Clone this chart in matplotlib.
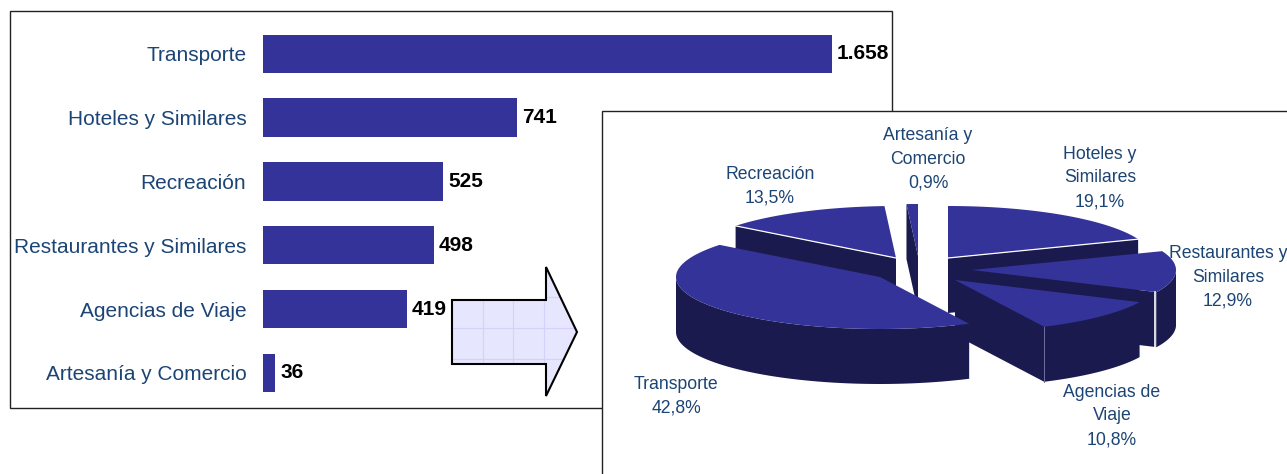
#!/usr/bin/env python3
# -*- coding: utf-8 -*-

import numpy as np
import matplotlib
matplotlib.use('Agg')
import matplotlib.pyplot as plt
from matplotlib.patches import Polygon, Rectangle

plt.rcParams['font.family'] = ['Liberation Sans', 'DejaVu Sans']

# bar chart data
bar_categories = ['Transporte', 'Hoteles y Similares', 'Recreación',
                  'Restaurantes y Similares', 'Agencias de Viaje', 'Artesanía y Comercio']
bar_values = [1658, 741, 525, 498, 419, 36]
bar_labels = ['1.658', '741', '525', '498', '419', '36']

# pie data, clockwise from 12 o'clock
pie_names = ['Hoteles y\nSimilares', 'Restaurantes y\nSimilares', 'Agencias de\nViaje',
             'Transporte', 'Recreación', 'Artesanía y\nComercio']
pie_shares = [19.1, 12.9, 10.8, 42.8, 13.5, 0.9]

BLUE = '#333399'
DARK = '#1a1a4e'
TEXT = '#1c4474'
W, H = 1287, 474

# exploded slice apexes and label centres, in pixels
apexes = [(948, 258), (972, 270), (955, 280), (880, 277), (896, 258), (918, 256)]
label_pos = [(1100, 178), (1228, 277), (1112, 416), (676, 396), (770, 186), (928, 159)]
RX, RY, DEPTH = 204, 52, 55

fig = plt.figure(figsize=(W / 100, H / 100), dpi=100, facecolor='white')

# frame of the bar chart
fig.add_artist(Rectangle((10 / W, 1 - 408 / H), 882 / W, 397 / H, transform=fig.transFigure,
                         facecolor='white', edgecolor='#222222', linewidth=1, zorder=-1))

# bars
ax = fig.add_axes([263 / W, 1 - 408 / H, 629 / W, 397 / H])
ax.patch.set_alpha(0)
y = np.arange(len(bar_values))
ax.barh(y, bar_values, height=0.6, color=BLUE)
ax.set_xlim(0, 629 / (569 / 1658))
ax.set_ylim(5.55, -0.67)
ax.set_yticks(y)
ax.set_yticklabels(bar_categories, fontsize=15, color=TEXT)
ax.tick_params(axis='y', length=0, pad=12)
ax.set_xticks([])
for s in ax.spines.values():
    s.set_visible(False)
for yi, v, lab in zip(y, bar_values, bar_labels):
    ax.annotate(lab, (v, yi), xytext=(3.5, 0), textcoords='offset points', va='center',
                ha='left', fontsize=15, fontweight='bold', color='black')

# overlay in pixel coordinates for the arrow and the pie panel
ov = fig.add_axes([0, 0, 1, 1])
ov.set_xlim(0, W)
ov.set_ylim(H, 0)
ov.axis('off')

# arrow
arrow_pts = [(452, 300), (546, 300), (546, 267), (577, 332), (546, 396), (546, 364), (452, 364)]
arrow = Polygon(arrow_pts, closed=True, facecolor='#e6e6fe', edgecolor='none', zorder=2)
ov.add_patch(arrow)
for gx in [483, 513, 544]:
    ln, = ov.plot([gx, gx], [260, 400], color='#d2d2fa', lw=0.8, zorder=2.1)
    ln.set_clip_path(arrow)
for gy in [297, 328, 359]:
    ln, = ov.plot([450, 580], [gy, gy], color='#d2d2fa', lw=0.8, zorder=2.1)
    ln.set_clip_path(arrow)
ov.add_patch(Polygon(arrow_pts, closed=True, facecolor='none', edgecolor='black',
                     linewidth=1.5, zorder=2.2))

# pie panel
ov.add_patch(Rectangle((602, 110.5), 800, 500, facecolor='white', edgecolor='#222222',
                       linewidth=1, zorder=3))


def rim_point(apex, deg):
    t = np.radians(deg)
    return apex[0] + RX * np.sin(t), apex[1] - RY * np.cos(t)


def draw_slice(apex, start, end, z):
    # rim: the part of the arc facing the viewer
    a, b = max(start, 90), min(end, 270)
    if b > a:
        t = np.linspace(a, b, 60)
        xs, ys = rim_point(apex, t)
        pts = list(zip(xs, ys)) + list(zip(xs[::-1], ys[::-1] + DEPTH))
        ov.add_patch(Polygon(pts, closed=True, color=DARK, lw=0, zorder=z))
    # flat cut faces, only those turned to the viewer
    for deg, visible in [(start, np.sin(np.radians(start)) < -1e-6),
                         (end, np.sin(np.radians(end)) > 1e-6)]:
        if visible:
            rx_, ry_ = rim_point(apex, deg)
            pts = [apex, (rx_, ry_), (rx_, ry_ + DEPTH), (apex[0], apex[1] + DEPTH)]
            ov.add_patch(Polygon(pts, closed=True, color=DARK, lw=0, zorder=z))
    # top
    t = np.linspace(start, end, 120)
    xs, ys = rim_point(apex, t)
    pts = [apex] + list(zip(xs, ys))
    ov.add_patch(Polygon(pts, closed=True, color=BLUE, lw=0, zorder=z + 0.001))


edges = np.concatenate([[0], np.cumsum(pie_shares) * 3.6])
# back to front
draw_order = [4, 5, 0, 1, 2, 3]
for n, i in enumerate(draw_order):
    draw_slice(apexes[i], edges[i], edges[i + 1], 4 + n * 0.01)

# thin light seams
for i, deg in [(0, edges[1]), (4, edges[4])]:
    rx_, ry_ = rim_point(apexes[i], deg)
    ov.plot([apexes[i][0], rx_], [apexes[i][1], ry_], color='white', lw=0.9,
            zorder=4 + draw_order.index(i) * 0.01 + 0.002)
rx_, ry_ = rim_point(apexes[1], edges[2])
ov.plot([rx_ - 2, rx_ - 2], [ry_, ry_ + DEPTH], color='white', lw=1.2, zorder=4.1)
rx_, ry_ = rim_point(apexes[2], edges[3])
ov.plot([rx_, rx_], [ry_, ry_ + DEPTH], color='#6f6f9c', lw=0.7, zorder=4.1)

# pie labels
for name, share, pos in zip(pie_names, pie_shares, label_pos):
    txt = name + '\n' + f'{share:.1f}'.replace('.', ',') + '%'
    ov.text(pos[0], pos[1], txt, ha='center', va='center', fontsize=12.7, color=TEXT,
            linespacing=1.52, zorder=5)

plt.savefig('out.png', dpi=100)
plt.close()
